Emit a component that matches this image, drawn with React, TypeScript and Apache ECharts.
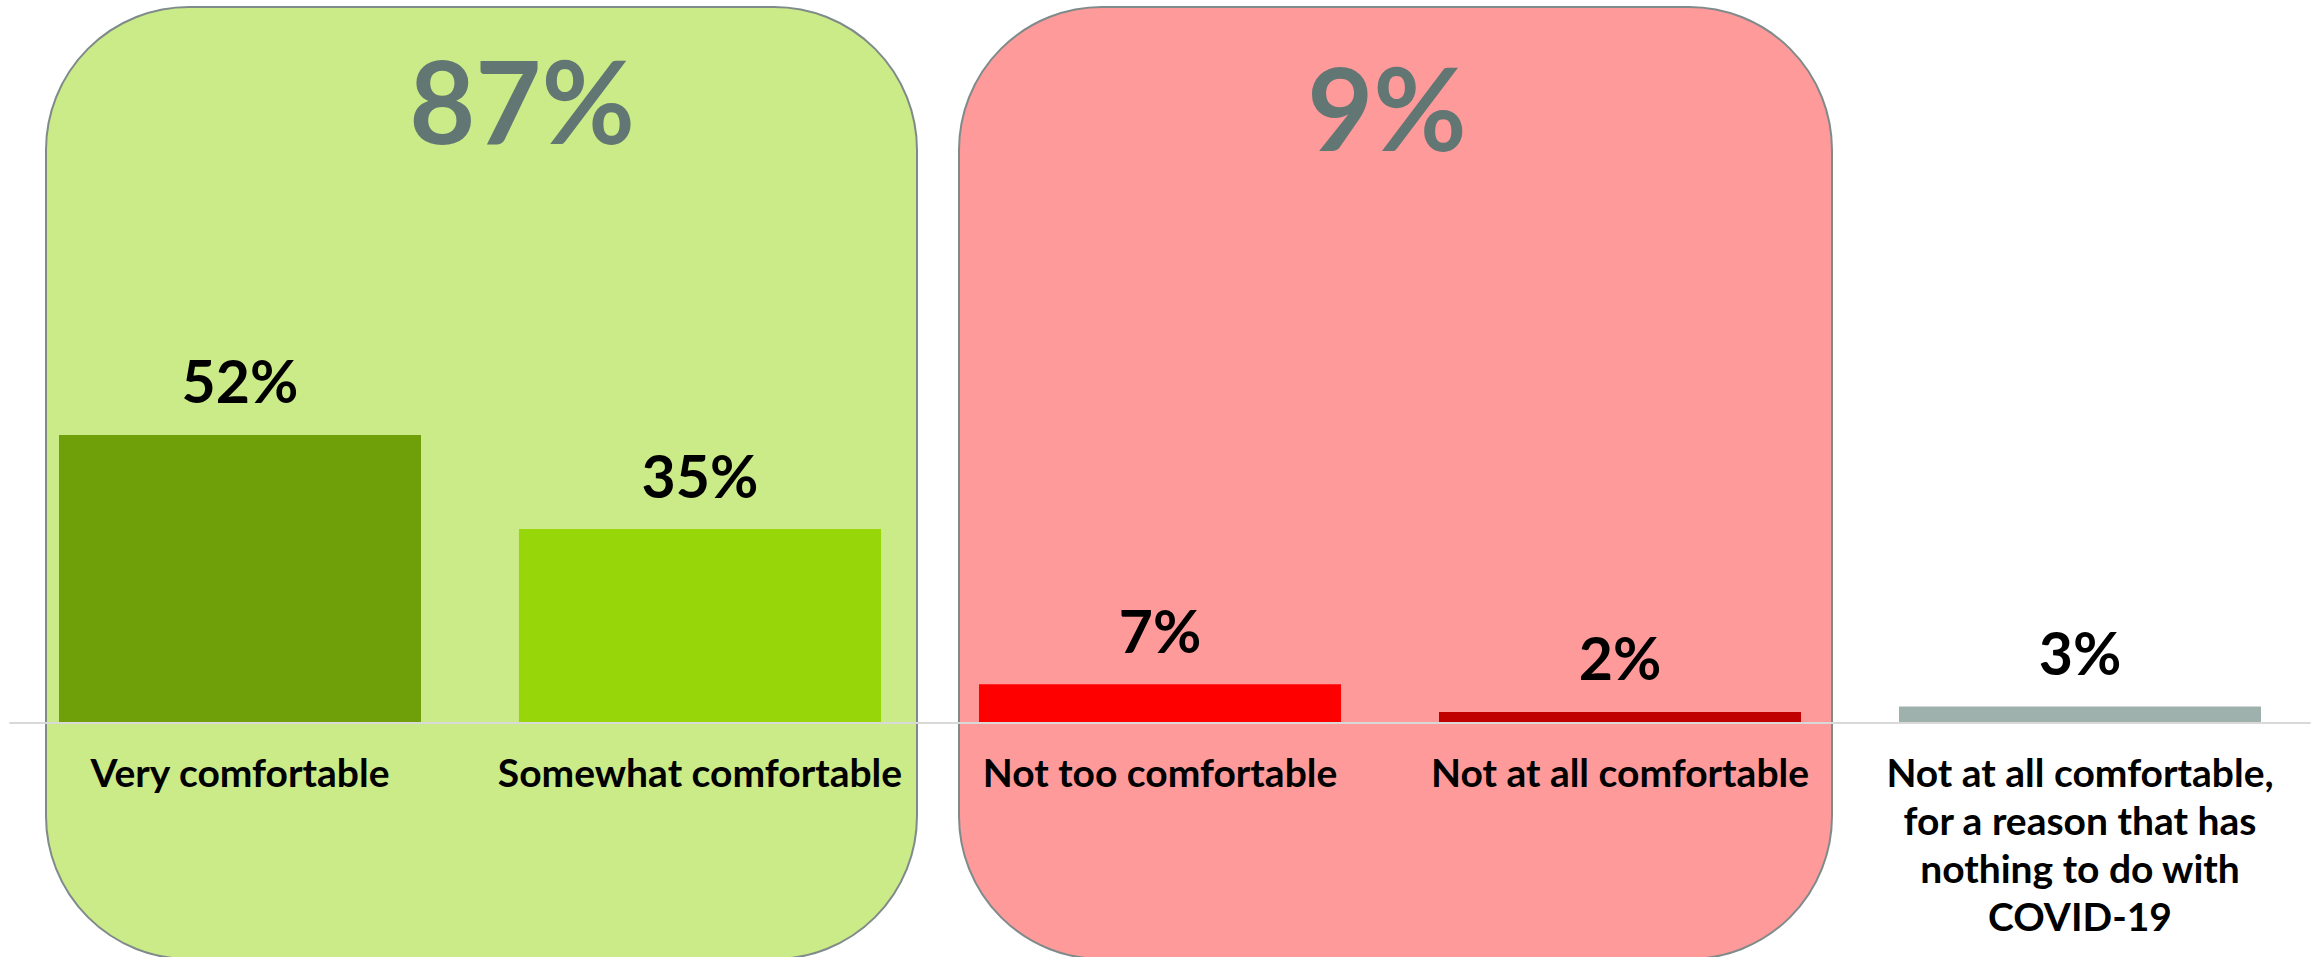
import React, { useEffect, useRef } from "react";
import * as echarts from "echarts";

const categories = [
  "Very comfortable",
  "Somewhat comfortable",
  "Not too comfortable",
  "Not at all comfortable",
  "Not at all comfortable,\nfor a reason that has\nnothing to do with\nCOVID-19",
];
const values = [52, 35, 7, 2, 3];
const barColors = ["#70a009", "#97d70a", "#ff0000", "#c00000", "#9fb1ad"];
const groupTotals = ["87%", "9%"];

const FONT = "Lato, 'Open Sans', sans-serif";

export default function App() {
  const ref = useRef<HTMLDivElement>(null);
  useEffect(() => {
    if (!ref.current) return;
    document.body.style.margin = "0";
    const chart = echarts.init(ref.current, undefined, { renderer: "svg" });
    const boxStyle = { lineWidth: 2, stroke: "#7f8a8a" };
    chart.setOption({
      animation: false,
      backgroundColor: "#ffffff",
      grid: { left: 10, right: 10, top: 169, bottom: 234, containLabel: false },
      xAxis: {
        type: "category",
        data: categories,
        z: 5,
        axisLine: { show: true, lineStyle: { color: "#d9d9d9", width: 2 } },
        axisTick: { show: false },
        axisLabel: {
          interval: 0,
          margin: 25,
          color: "#000000",
          fontFamily: FONT,
          fontWeight: "bold",
          fontSize: 39,
          lineHeight: 48,
          align: "center",
        },
      },
      yAxis: {
        type: "value",
        min: 0,
        max: 100,
        show: false,
        splitLine: { show: false },
      },
      graphic: [
        {
          type: "rect",
          z: -10,
          shape: { x: 46, y: 7, width: 871, height: 952, r: 143 },
          style: { fill: "#cbea88", ...boxStyle },
        },
        {
          type: "rect",
          z: -10,
          shape: { x: 959, y: 7, width: 873, height: 952, r: 143 },
          style: { fill: "#fe9a9a", ...boxStyle },
        },
        {
          type: "text",
          z: 10,
          x: 522,
          y: 99,
          style: {
            text: groupTotals[0],
            fill: "#627673",
            font: `bold 114px ${FONT}`,
            textAlign: "center",
            textVerticalAlign: "middle",
          },
        },
        {
          type: "text",
          z: 10,
          x: 1387,
          y: 106,
          style: {
            text: groupTotals[1],
            fill: "#627673",
            font: `bold 114px ${FONT}`,
            textAlign: "center",
            textVerticalAlign: "middle",
          },
        },
      ],
      series: [
        {
          type: "bar",
          barCategoryGap: "21.3%",
          data: values.map((v, i) => ({ value: v, itemStyle: { color: barColors[i] } })),
          label: {
            show: true,
            position: "top",
            distance: 25,
            formatter: "{c}%",
            color: "#000000",
            fontFamily: FONT,
            fontWeight: "bold",
            fontSize: 59,
            lineHeight: 58,
          },
        },
      ],
    });
    return () => chart.dispose();
  }, []);
  return (
    <div
      ref={ref}
      style={{ position: "absolute", left: 0, top: 0, width: 2320, height: 957 }}
    />
  );
}
